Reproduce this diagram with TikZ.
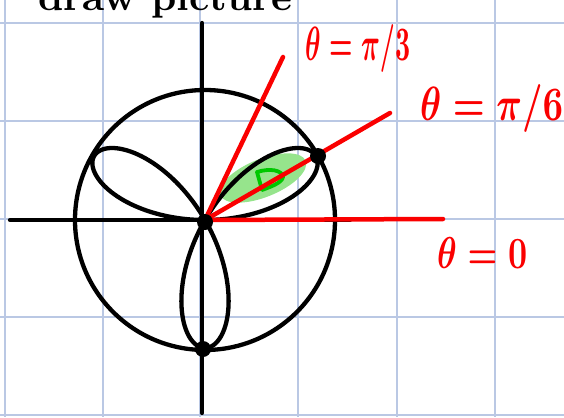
\documentclass[tikz,border=0pt]{standalone}
\usepackage{graphicx}
\definecolor{gridblue}{RGB}{186,200,228}
\definecolor{penred}{RGB}{250,0,0}
\definecolor{hlgreen}{RGB}{150,228,140}
\definecolor{pengreen}{RGB}{0,200,0}
\begin{document}
\begin{tikzpicture}[x=1pt,y=-1pt,
  gridline/.style={draw=gridblue,line width=1.4pt},
  ink/.style={draw=black,line width=4.3pt,line cap=round,line join=round},
  redink/.style={draw=penred,line width=4.5pt,line cap=round},
  redlabel/.style={text=penred,inner sep=0pt},
  dotmark/.style={fill=black,circle,inner sep=0pt,minimum size=16pt}]
\useasboundingbox (0,0) rectangle (564,417);
\clip (0,0) rectangle (564,417);
% grid
\foreach \gx in {5,103,200,298,397,495} \draw[gridline] (\gx,0) -- (\gx,417);
\foreach \gy in {23,121,219,317,415} \draw[gridline] (0,\gy) -- (564,\gy);
% title (cut off at top, as in the reference)
\node[anchor=base west,inner sep=0pt] (title) at (38,11) {\resizebox{254pt}{!}{\bfseries draw picture}};
% key points
\coordinate (O) at (205,220);
\coordinate (xend) at (350,220);
\coordinate (xstart) at (10,220);
\coordinate (ytop) at (202,23);
\coordinate (ybot) at (202,413);
\coordinate (r0) at (443,219);
\coordinate (r6) at (390,113);
\coordinate (r3) at (283,57);
% green shading
\fill[hlgreen,rotate around={22:(263,178)}] (263,178) ellipse (46pt and 19pt);
\draw[draw=pengreen,line width=3.8pt,line cap=round,line join=round]
  (262,190) -- (257,172) .. controls (270,168) and (282,170) .. (283,177) .. controls (282,183) and (270,187) .. (262,190);
% axes
\draw[ink] (xstart) -- (xend);
\draw[ink] (ytop) -- (ybot);
% circle
\draw[ink] (O) circle (130pt);
% three-leaf rose
\draw[ink] plot[domain=0:180,samples=240,smooth] ({205+128*sin(3*\x)*cos(\x)},{220-128*sin(3*\x)*sin(\x)});
% red rays
\draw[redink] (O) -- (r0);
\draw[redink] (O) -- (r6);
\draw[redink] (O) -- (r3);
% dots
\node[dotmark] (d0) at (205,222) {};
\node[dotmark] (d1) at (203,349) {};
\node[dotmark] (d2) at (318,156) {};
% labels
\node[redlabel,anchor=north west] (l3) at (305,24) {\resizebox{105pt}{36pt}{\boldmath$\theta = \pi/3$}};
\node[redlabel,anchor=north west] (l6) at (420,84) {\resizebox{143pt}{36pt}{\boldmath$\theta = \pi/6$}};
\node[redlabel,anchor=north west] (l0) at (437,237) {\resizebox{90pt}{31pt}{\boldmath$\theta = 0$}};
\end{tikzpicture}
\end{document}
